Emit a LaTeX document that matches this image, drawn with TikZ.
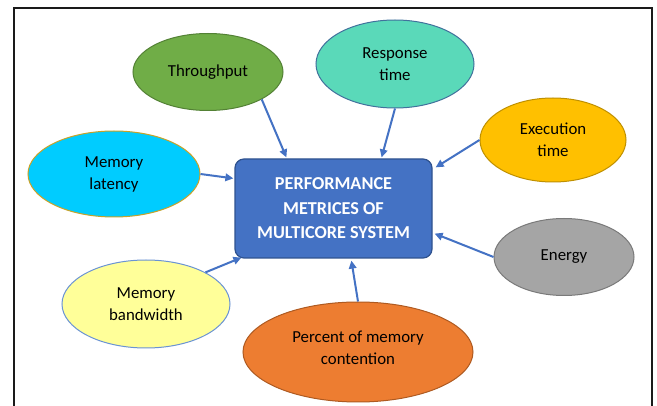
\documentclass[tikz,border=0pt]{standalone}
\usepackage{fontspec}
\setmainfont{Carlito}
\usetikzlibrary{shapes.geometric,arrows.meta,calc}

\definecolor{frameline}{HTML}{1A1A1A}
\definecolor{arrowblue}{HTML}{4472C4}
\definecolor{boxfill}{HTML}{4472C4}
\definecolor{boxline}{HTML}{2F528F}
\definecolor{thrfill}{HTML}{70AD47}
\definecolor{thrline}{HTML}{538135}
\definecolor{latfill}{HTML}{00CCFF}
\definecolor{latline}{HTML}{C9A227}
\definecolor{respfill}{HTML}{5AD9B9}
\definecolor{respline}{HTML}{41719C}
\definecolor{exefill}{HTML}{FFC000}
\definecolor{exeline}{HTML}{BF9000}
\definecolor{enfill}{HTML}{A5A5A5}
\definecolor{enline}{HTML}{7A7A7A}
\definecolor{pctfill}{HTML}{ED7D31}
\definecolor{pctline}{HTML}{AE5A21}
\definecolor{bwfill}{HTML}{FFFF99}
\definecolor{bwline}{HTML}{6A93D4}

\tikzset{
  metric/.style={ellipse, inner sep=0pt, line width=1pt, align=center,
    font=\fontsize{16.8}{22}\selectfont, text=black},
  centre/.style={rounded corners=9pt, fill=boxfill, draw=boxline, line width=1.2pt,
    minimum width=197pt, minimum height=99pt, align=center, text=white,
    font=\fontsize{18.2}{24.5}\selectfont\bfseries},
  link/.style={draw=arrowblue, line width=2pt,
    -{Triangle[length=8pt,width=7.5pt]}}
}

\begin{document}
\begin{tikzpicture}[x=1pt,y=-1pt]
  \useasboundingbox (0,0) rectangle (657,406);
  \fill[white] (0,0) rectangle (657,406);

  % outer frame, open at the bottom
  \draw[frameline, line width=1.3pt] (14,406) -- (14,8) -- (652,8) -- (652,406);

  % central box
  \node[centre] (box) at (333.5,208.5) {PERFORMANCE\\METRICES OF\\MULTICORE SYSTEM};

  % surrounding metrics
  \node[metric, fill=thrfill, draw=thrline, minimum width=150pt, minimum height=77pt]
    (thr) at (208,72) {Throughput};
  \node[metric, fill=respfill, draw=respline, minimum width=158pt, minimum height=88pt]
    (resp) at (395,64) {Response\\time};
  \node[metric, fill=exefill, draw=exeline, minimum width=146pt, minimum height=84pt]
    (exe) at (553,140) {Execution\\time};
  \node[metric, fill=latfill, draw=latline, minimum width=172pt, minimum height=86pt]
    (lat) at (114,174) {Memory\\latency};
  \node[metric, fill=enfill, draw=enline, minimum width=140pt, minimum height=77pt]
    (en) at (564,257) {Energy};
  \node[metric, fill=bwfill, draw=bwline, minimum width=168pt, minimum height=88pt]
    (bw) at (146,304) {Memory\\bandwidth};
  \node[metric, fill=pctfill, draw=pctline, minimum width=230pt, minimum height=100pt]
    (pct) at (358,352) {Percent of memory\\contention\\[-14pt]};

  % connectors into the box
  \draw[link] (thr.333) -- ($(box.north west)+(52,-1)$);
  \draw[link] (resp.south) -- ($(box.north east)+(-51,-1)$);
  \draw[link] (exe.west) -- ($(box.north east)+(3,9)$);
  \draw[link] (lat.east) -- ($(box.north west)+(-1,20)$);
  \draw[link] (en.west) -- ($(box.south east)+(2,-25)$);
  \draw[link] (pct.north) -- ($(box.south west)+(117,2)$);
  \draw[link] (bw.28) -- ($(box.south west)+(7,-1)$);
\end{tikzpicture}
\end{document}
